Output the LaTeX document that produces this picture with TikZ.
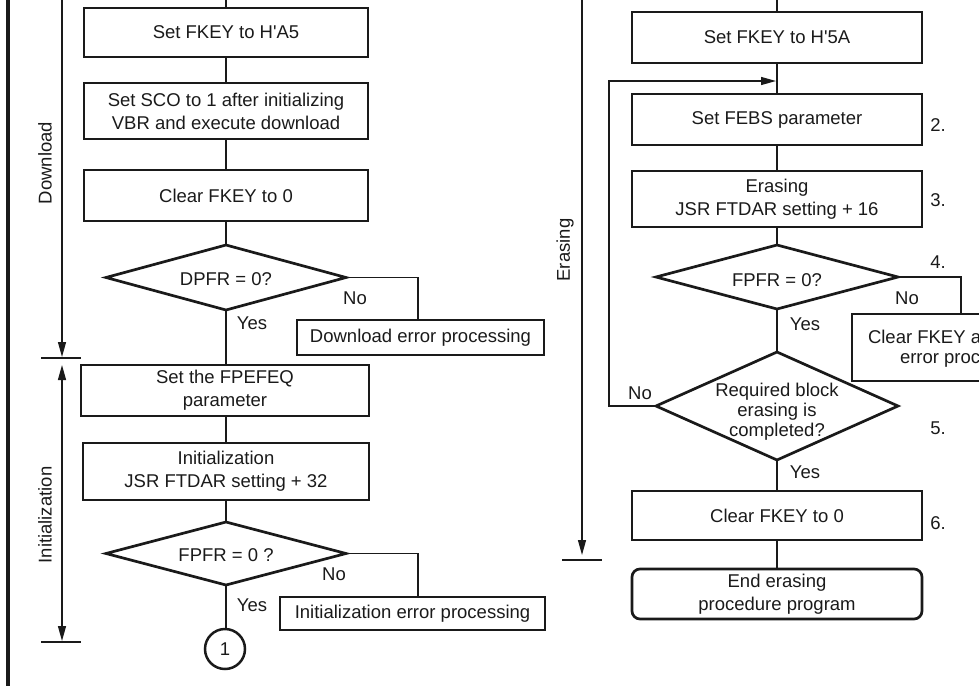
\documentclass[tikz,border=0pt]{standalone}
\usepackage{fontspec}
\setmainfont{Liberation Sans}
\usetikzlibrary{arrows.meta,shapes.geometric}
\definecolor{ink}{HTML}{1A1A1A}
\begin{document}
\begin{tikzpicture}[x=1pt,y=-1pt,
  every node/.style={font=\fontsize{18.5}{23}\selectfont, text=ink, inner sep=0pt, outer sep=0pt},
  box/.style={draw=ink, line width=2.7pt, rectangle, align=center},
  rbox/.style={box, rounded corners=8pt},
  dia/.style={draw=ink, line width=2.7pt, diamond},
  conn/.style={draw=ink, line width=1.3pt},
  arr/.style={conn, -{Triangle[length=15pt,width=8pt]}},
  darr/.style={conn, {Triangle[length=15pt,width=8pt]}-{Triangle[length=15pt,width=8pt]}},
  tick/.style={draw=ink, line width=1.3pt},
]
\useasboundingbox (0,0) rectangle (979,686);
\begin{scope}
\clip (0,0) rectangle (979,686);

% left frame line
\coordinate (F1) at (8,0);
\coordinate (F2) at (8,686);
\draw[draw=ink, line width=3.2pt] (F1) -- (F2);

% ---------- left column ----------
\coordinate (Ltop) at (226,0);
\node[box, minimum width=284, minimum height=49] (B1) at (226,32.5) {Set FKEY to H\textquotesingle A5};
\node[box, minimum width=284, minimum height=56] (B2) at (226,111) {Set SCO to 1 after initializing\\VBR and execute download};
\node[box, minimum width=284, minimum height=51] (B3) at (226,195.5) {Clear FKEY to 0};
\node[dia, minimum width=240, minimum height=65] (D1) at (226,277.5) {};
\node (D1t) at (226,279) {DPFR = 0?};
\node[box, minimum width=247, minimum height=35] (E1) at (420.5,337.5) {Download error processing};
\node[box, minimum width=288, minimum height=51] (B4) at (225,390.5) {Set the FPEFEQ\\parameter};
\node[box, minimum width=286, minimum height=57] (B5) at (226,471.5) {Initialization\\JSR FTDAR setting + 32};
\node[dia, minimum width=240, minimum height=63] (D2) at (226,553.5) {};
\node (D2t) at (226,555) {FPFR = 0 ?};
\node[box, minimum width=265, minimum height=33] (E2) at (412.5,613.5) {Initialization error processing};
\node[draw=ink, line width=2.5pt, circle, minimum size=40] (C1) at (225,649) {1};

\coordinate (n1) at (418,320);
\coordinate (n2) at (418,597);

\draw[conn] (Ltop) -- (B1.north);
\draw[conn] (B1) -- (B2);
\draw[conn] (B2) -- (B3);
\draw[conn] (B3) -- (D1);
\draw[conn] (D1.south) -- (D1.south |- B4.north);
\draw[conn] (B4.south -| B5.north) -- (B5.north);
\draw[conn] (B5) -- (D2);
\draw[conn] (D2.south) -- (D2.south |- C1.north);
\draw[conn] (D1.east) -| (n1);
\draw[conn] (D2.east) -| (n2);

\node (y1) at (252,323) {Yes};
\node (no1) at (355,298) {No};
\node (y2) at (252,605) {Yes};
\node (no2) at (334,574) {No};

% side arrows left
\coordinate (dA) at (62,0);
\coordinate (dB) at (62,357);
\coordinate (iA) at (62,365);
\coordinate (iB) at (62,641);
\draw[arr] (dA) -- (dB);
\draw[darr] (iA) -- (iB);
\coordinate (t1a) at (41,358); \coordinate (t1b) at (81,358);
\coordinate (t2a) at (41,642); \coordinate (t2b) at (81,642);
\draw[tick] (t1a) -- (t1b);
\draw[tick] (t2a) -- (t2b);
\node[rotate=90] (Ldl) at (45,163) {Download};
\node[rotate=90] (Lin) at (45,515) {Initialization};

% ---------- right column ----------
\coordinate (Rtop) at (777,0);
\node[box, minimum width=290, minimum height=51] (R1) at (777,37.5) {Set FKEY to H\textquotesingle 5A};
\node[box, minimum width=290, minimum height=51] (R2) at (777,119.5) {Set FEBS parameter};
\node[box, minimum width=290, minimum height=56] (R3) at (777,199) {Erasing\\JSR FTDAR setting + 16};
\node[dia, minimum width=242, minimum height=64] (D3) at (777,277) {};
\node (D3t) at (777,280) {FPFR = 0?};
\node[box, minimum width=230, minimum height=67] (E3) at (967,347.5) {};
\node[anchor=west] (E3a) at (868,337) {Clear FKEY and};
\node[anchor=west] (E3b) at (900,359) {error processing};
\node[dia, minimum width=242, minimum height=108] (D4) at (777,406) {};
\node[align=center, font=\fontsize{18.5}{20}\selectfont] (D4t) at (777,412) {Required block\\erasing is\\completed?};
\node[box, minimum width=290, minimum height=49] (R4) at (777,515.5) {Clear FKEY to 0};
\node[rbox, minimum width=290, minimum height=50] (R5) at (777,594) {End erasing\\procedure program};

\coordinate (n3) at (961,314);
\coordinate (lp1) at (609,406);
\coordinate (lpEnd) at (776,81);

\draw[conn] (Rtop) -- (R1.north);
\draw[conn] (R1) -- (R2);
\draw[conn] (R2) -- (R3);
\draw[conn] (R3) -- (D3);
\draw[conn] (D3) -- (D4);
\draw[conn] (D4) -- (R4);
\draw[conn] (R4) -- (R5);
\draw[conn] (D3.east) -| (n3);
\draw[arr] (D4.west) -- (lp1) |- (lpEnd);

\node (y3) at (805,324) {Yes};
\node (no3) at (907,298) {No};
\node (y4) at (805,472) {Yes};
\node (no4) at (640,393) {No};

\node (s2) at (938,125) {2.};
\node (s3) at (938,200) {3.};
\node (s4) at (938,262) {4.};
\node (s5) at (938,428) {5.};
\node (s6) at (938,523) {6.};

% side arrow right
\coordinate (eA) at (582,0);
\coordinate (eB) at (582,555);
\draw[arr] (eA) -- (eB);
\coordinate (t3a) at (562,560); \coordinate (t3b) at (602,560);
\draw[tick] (t3a) -- (t3b);
\node[rotate=90] (Ler) at (565,250) {Erasing};
\end{scope}
\end{tikzpicture}
\end{document}
